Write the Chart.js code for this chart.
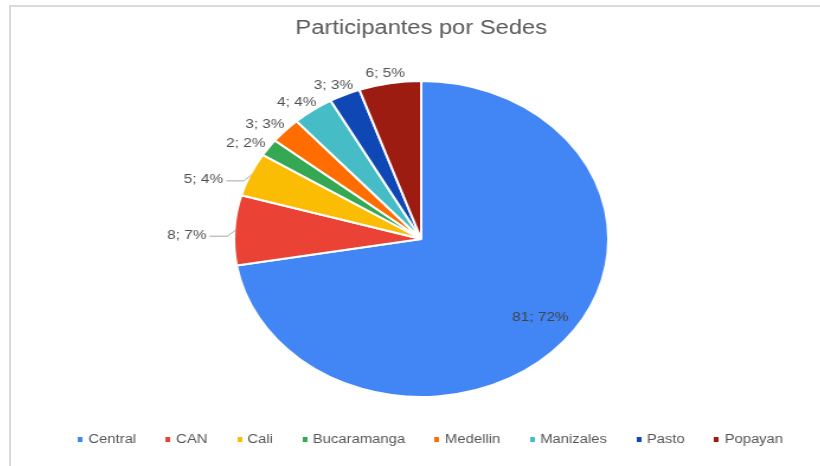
<!DOCTYPE html>
<html>
<head>
<meta charset="utf-8">
<script src="https://cdn.jsdelivr.net/npm/chart.js@4.4.1/dist/chart.umd.min.js"></script>
<style>
  html, body { margin: 0; padding: 0; background: #fff; width: 820px; height: 466px; overflow: hidden; }
  .frame { position: absolute; left: 9px; top: 5px; width: 830px; height: 480px;
           border-left: 2px solid #dadada; border-top: 2px solid #dadada; }
  .stretch { position: absolute; left: 9px; top: 0; width: 696px; height: 466px;
             transform: scaleX(1.1845); transform-origin: 0 0; }
</style>
</head>
<body>
<div class="frame"></div>
<div class="stretch"><canvas id="chart" width="696" height="466"></canvas></div>
<script>
// data
const sedes = ['Central', 'CAN', 'Cali', 'Bucaramanga', 'Medellin', 'Manizales', 'Pasto', 'Popayan'];
const participantes = [81, 8, 5, 2, 3, 4, 3, 6];
const colores = ['#4285F4', '#EA4335', '#FBBC04', '#34A853', '#FF6D01', '#46BDC6', '#0F48B5', '#9D1C12'];

const FONT = 'Arial, "Liberation Sans", sans-serif';

// small square legend markers
function marker(color) {
  const c = document.createElement('canvas');
  c.width = 4;
  c.height = 5;
  const g = c.getContext('2d');
  g.fillStyle = color;
  g.fillRect(0, 0, 4, 5);
  return c;
}

// "value; pct%" labels, outside for small slices, leader line near the horizontal
const sliceLabels = {
  id: 'sliceLabels',
  afterDatasetsDraw(chart, args, opts) {
    const ctx = chart.ctx;
    const meta = chart.getDatasetMeta(0);
    const values = chart.data.datasets[0].data;
    const total = values.reduce((s, v) => s + v, 0);
    ctx.save();
    ctx.font = opts.size + 'px ' + FONT;
    meta.data.forEach((arc, i) => {
      const p = arc.getProps(['x', 'y', 'startAngle', 'endAngle', 'outerRadius'], true);
      const mid = (p.startAngle + p.endAngle) / 2;
      const cos = Math.cos(mid), sin = Math.sin(mid);
      const text = values[i] + '; ' + Math.round(values[i] / total * 100) + '%';
      const w = ctx.measureText(text).width;
      if (values[i] / total > 0.25) {
        ctx.fillStyle = opts.insideColor;
        ctx.textAlign = 'center';
        ctx.textBaseline = 'alphabetic';
        ctx.fillText(text, p.x + cos * p.outerRadius * 0.8 + 4, p.y + sin * p.outerRadius * 0.8);
        return;
      }
      ctx.fillStyle = opts.color;
      ctx.textBaseline = 'middle';
      const edge = p.outerRadius - 1;
      if (Math.abs(sin) < 0.5) {
        const sx = p.x + cos * edge, sy = p.y + sin * edge;
        const ex = sx + cos * 7, ey = sy + 6;
        const dir = cos < 0 ? -1 : 1;
        const hx = ex + dir * 15;
        ctx.strokeStyle = opts.lineColor;
        ctx.lineWidth = 1;
        ctx.beginPath();
        ctx.moveTo(sx, sy);
        ctx.lineTo(ex, ey);
        ctx.lineTo(hx, ey);
        ctx.stroke();
        ctx.textAlign = dir < 0 ? 'right' : 'left';
        ctx.fillText(text, hx + dir * 2.5, ey - 1);
      } else {
        const r = edge + 8;
        ctx.textAlign = 'center';
        ctx.fillText(text, p.x + cos * (r + w / 2), p.y + sin * (r + 6) + 3);
      }
    });
    ctx.restore();
  }
};

new Chart(document.getElementById('chart'), {
  type: 'pie',
  data: {
    labels: sedes,
    datasets: [{
      data: participantes,
      backgroundColor: colores,
      borderColor: '#ffffff',
      borderWidth: 2,
      radius: 158
    }]
  },
  options: {
    responsive: false,
    animation: false,
    events: [],
    layout: { padding: { left: 16, right: 16, top: 0, bottom: 10 } },
    plugins: {
      title: {
        display: true,
        text: 'Participantes por Sedes',
        color: '#595959',
        font: { family: FONT, size: 20, weight: 'normal' },
        padding: { top: 16, bottom: 31 }
      },
      legend: {
        position: 'bottom',
        align: 'end',
        labels: {
          usePointStyle: true,
          pointStyleWidth: 1,
          boxHeight: 5,
          padding: 26.5,
          color: '#555555',
          font: { family: FONT, size: 12.5 },
          generateLabels(chart) {
            return Chart.overrides.doughnut.plugins.legend.labels.generateLabels(chart)
              .map((l, i) => ({ ...l, lineWidth: 0, pointStyle: marker(colores[i]) }));
          }
        }
      },
      tooltip: { enabled: false },
      sliceLabels: { size: 13, color: '#505050', insideColor: '#444444', lineColor: '#a6a6a6' }
    }
  },
  plugins: [sliceLabels]
});
</script>
</body>
</html>
